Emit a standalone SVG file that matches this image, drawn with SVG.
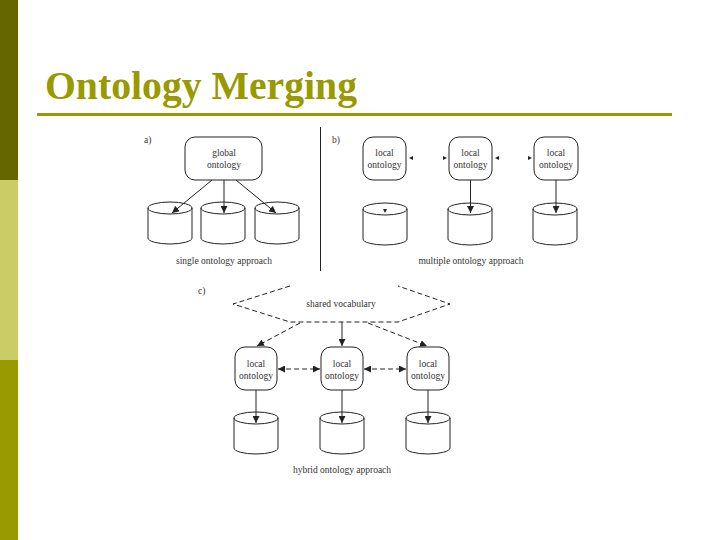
<svg xmlns="http://www.w3.org/2000/svg" width="720" height="540" viewBox="0 0 720 540">
<style>
.ln{fill:none;stroke:#222;stroke-width:1}
.box{fill:#fff;stroke:#222;stroke-width:1}
.dash{fill:none;stroke:#222;stroke-width:1;stroke-dasharray:5,3}
.t{font-family:"Liberation Serif","Times New Roman",serif;font-size:9.5px;fill:#333;text-anchor:middle}
.lab{font-family:"Liberation Serif","Times New Roman",serif;font-size:9.5px;fill:#333}
.ah{fill:#222}
</style>
<defs>
<marker id="arr" viewBox="0 0 8 8" refX="8" refY="4" markerWidth="7" markerHeight="7" markerUnits="userSpaceOnUse" orient="auto-start-reverse">
<path d="M0,0 L8,4 L0,8 z" fill="#222"/>
</marker>
<path id="cyl" d="M0,6 A22,6 0 0 1 44,6 A22,6 0 0 1 0,6 M0,6 V36 A22,6 0 0 0 44,36 V6" fill="#fff" stroke="#222" stroke-width="1"/>
</defs>
<rect width="720" height="540" fill="#fff"/>
<rect x="0" y="0" width="18" height="180" fill="#666600"/>
<rect x="0" y="180" width="18" height="180" fill="#cccc66"/>
<rect x="0" y="360" width="18" height="180" fill="#999900"/>
<text x="45" y="99" font-family="'Liberation Serif','Times New Roman',serif" font-size="40" font-weight="bold" fill="#999900" textLength="312" lengthAdjust="spacingAndGlyphs">Ontology Merging</text>
<rect x="37" y="113" width="635" height="3" fill="#999900"/>
<line x1="320.5" y1="127" x2="320.5" y2="271" stroke="#222" stroke-width="1"/>

<text class="lab" x="144" y="143">a)</text>
<text class="lab" x="332" y="143">b)</text>
<text class="lab" x="198" y="294">c)</text>

<g id="cylinders">
<use href="#cyl" x="148" y="202"/>
<use href="#cyl" x="201" y="202"/>
<use href="#cyl" x="255" y="202"/>
<use href="#cyl" x="363" y="203"/>
<use href="#cyl" x="448" y="203"/>
<use href="#cyl" x="533" y="203"/>
<use href="#cyl" x="234" y="412"/>
<use href="#cyl" x="320" y="412"/>
<use href="#cyl" x="406" y="412"/>
</g>

<g id="global-ontology">
<rect class="box" x="185" y="137" width="77" height="43" rx="10"/>
<text class="t" x="224" y="156">global</text>
<text class="t" x="224" y="168">ontology</text>
</g>

<g id="b-local-1">
<rect class="box" x="363" y="137" width="43" height="43" rx="10"/>
<text class="t" x="384.5" y="156">local</text>
<text class="t" x="384.5" y="168">ontology</text>
</g>
<g id="b-local-2">
<rect class="box" x="449" y="137" width="43" height="43" rx="10"/>
<text class="t" x="470.5" y="156">local</text>
<text class="t" x="470.5" y="168">ontology</text>
</g>
<g id="b-local-3">
<rect class="box" x="534" y="137" width="44" height="43" rx="10"/>
<text class="t" x="556" y="156">local</text>
<text class="t" x="556" y="168">ontology</text>
</g>

<g id="shared-vocabulary">
<polyline class="dash" points="290,286 233,304 290,322 398,322 450,304 398,286"/>
<text class="t" x="341" y="307">shared vocabulary</text>
</g>

<g id="c-local-1">
<rect class="box" x="235" y="347" width="42" height="43" rx="10"/>
<text class="t" x="256" y="367">local</text>
<text class="t" x="256" y="379">ontology</text>
</g>
<g id="c-local-2">
<rect class="box" x="321" y="347" width="42" height="43" rx="10"/>
<text class="t" x="342" y="367">local</text>
<text class="t" x="342" y="379">ontology</text>
</g>
<g id="c-local-3">
<rect class="box" x="407" y="347" width="42" height="43" rx="10"/>
<text class="t" x="428" y="367">local</text>
<text class="t" x="428" y="379">ontology</text>
</g>

<g id="connectors">
<line class="ln" x1="212" y1="180" x2="172" y2="213" marker-end="url(#arr)"/>
<line class="ln" x1="224" y1="180" x2="224" y2="213" marker-end="url(#arr)"/>
<line class="ln" x1="236" y1="180" x2="276" y2="213" marker-end="url(#arr)"/>
<polygon class="ah" points="409,158 413,156 413,160"/>
<polygon class="ah" points="447,158 443,156 443,160"/>
<polygon class="ah" points="495,158 499,156 499,160"/>
<polygon class="ah" points="532,158 528,156 528,160"/>
<polygon class="ah" points="385,213 383,209 387,209"/>
<line class="ln" x1="470.5" y1="180" x2="470.5" y2="213" marker-end="url(#arr)"/>
<line class="ln" x1="556" y1="180" x2="556" y2="213" marker-end="url(#arr)"/>
<line class="dash" x1="300" y1="323" x2="257" y2="346" marker-end="url(#arr)"/>
<line class="ln" x1="342" y1="322" x2="342" y2="346" marker-end="url(#arr)"/>
<line class="dash" x1="368" y1="323" x2="427" y2="346" marker-end="url(#arr)"/>
<line class="dash" x1="278" y1="369" x2="320" y2="369" marker-start="url(#arr)" marker-end="url(#arr)"/>
<line class="dash" x1="364" y1="369" x2="406" y2="369" marker-start="url(#arr)" marker-end="url(#arr)"/>
<line class="ln" x1="256" y1="390" x2="256" y2="423" marker-end="url(#arr)"/>
<line class="ln" x1="342" y1="390" x2="342" y2="423" marker-end="url(#arr)"/>
<line class="ln" x1="428" y1="390" x2="428" y2="423" marker-end="url(#arr)"/>
</g>

<text class="t" x="224" y="264">single ontology approach</text>
<text class="t" x="471" y="264">multiple ontology approach</text>
<text class="t" x="342" y="473">hybrid ontology approach</text>
</svg>
